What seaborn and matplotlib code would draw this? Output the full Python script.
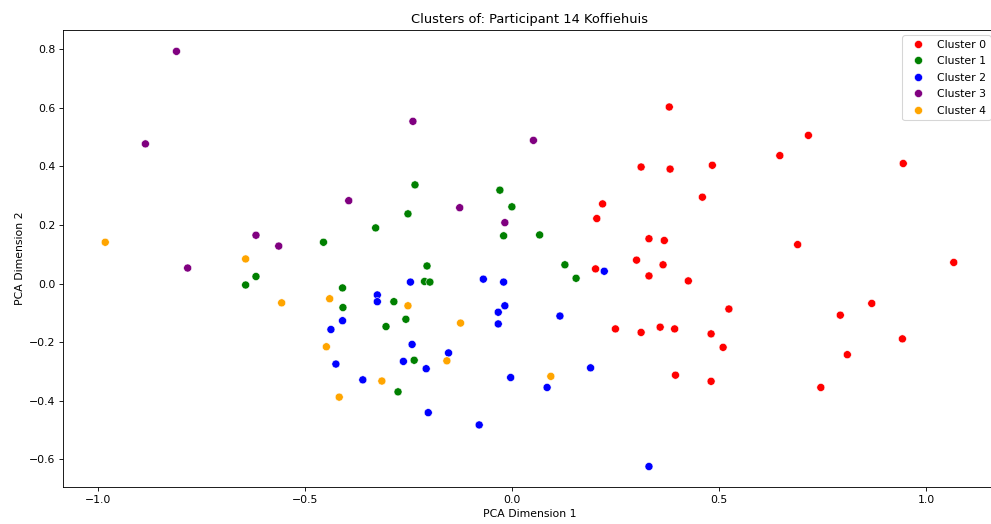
import matplotlib
matplotlib.use("Agg")
import matplotlib.pyplot as plt
import seaborn as sns
import pandas as pd

cluster0_x = [0.379, 0.715, 0.311, 0.381, 0.483, 0.646, 0.944, 0.459, 0.218, 0.204, 0.689,
              0.330, 0.367, 0.300, 0.201, 0.364, 0.330, 0.425, 1.066, 0.868, 0.523, 0.792,
              0.249, 0.357, 0.392, 0.311, 0.480, 0.509, 0.942, 0.809, 0.394, 0.480, 0.745]
cluster0_y = [0.603, 0.506, 0.398, 0.391, 0.404, 0.437, 0.410, 0.295, 0.272, 0.222, 0.133,
              0.153, 0.147, 0.080, 0.050, 0.064, 0.026, 0.009, 0.072, -0.068, -0.087, -0.108,
              -0.155, -0.149, -0.155, -0.167, -0.172, -0.218, -0.189, -0.243, -0.313, -0.334, -0.355]

cluster1_x = [-0.456, -0.330, -0.235, -0.252, -0.030, -0.001, -0.021, 0.066, -0.206, -0.212, -0.199,
              0.127, 0.154, -0.286, -0.305, -0.257, -0.237, -0.276, -0.644, -0.619, -0.410, -0.409]
cluster1_y = [0.141, 0.190, 0.337, 0.238, 0.319, 0.262, 0.163, 0.166, 0.060, 0.007, 0.005,
              0.064, 0.018, -0.062, -0.147, -0.122, -0.262, -0.370, -0.005, 0.024, -0.015, -0.082]

cluster2_x = [-0.326, -0.326, -0.410, -0.438, -0.426, -0.361, -0.246, -0.070, -0.021, -0.018, -0.034, -0.034,
              0.222, 0.115, -0.242, -0.263, -0.154, -0.208, -0.004, 0.189, 0.084, -0.203, -0.080, 0.330]
cluster2_y = [-0.039, -0.062, -0.127, -0.157, -0.275, -0.329, 0.005, 0.015, 0.005, -0.076, -0.098, -0.138,
              0.042, -0.111, -0.208, -0.266, -0.237, -0.291, -0.321, -0.288, -0.355, -0.441, -0.483, -0.625]

cluster3_x = [-0.811, -0.886, -0.395, -0.619, -0.564, -0.784, -0.240, 0.051, -0.127, -0.018]
cluster3_y = [0.793, 0.477, 0.283, 0.165, 0.128, 0.053, 0.554, 0.489, 0.259, 0.208]

cluster4_x = [-0.983, -0.644, -0.557, -0.441, -0.449, -0.418, -0.315, -0.252, -0.125, -0.158, 0.093]
cluster4_y = [0.141, 0.084, -0.066, -0.052, -0.216, -0.388, -0.333, -0.076, -0.135, -0.264, -0.317]

cluster_names = ["Cluster 0", "Cluster 1", "Cluster 2", "Cluster 3", "Cluster 4"]
cluster_colors = ["red", "green", "blue", "purple", "orange"]

xs = [cluster0_x, cluster1_x, cluster2_x, cluster3_x, cluster4_x]
ys = [cluster0_y, cluster1_y, cluster2_y, cluster3_y, cluster4_y]

rows = []
for name, cx, cy in zip(cluster_names, xs, ys):
    for a, b in zip(cx, cy):
        rows.append({"PCA Dimension 1": a, "PCA Dimension 2": b, "Cluster": name})
df = pd.DataFrame(rows)

W, H = 992, 524
dpi = 78.0
fig = plt.figure(figsize=(W / dpi, H / dpi), dpi=dpi)
ax = fig.add_axes([63 / W, 1 - 487.3 / H, (996 - 63) / W, (487.3 - 30) / H])

sns.scatterplot(data=df, x="PCA Dimension 1", y="PCA Dimension 2", hue="Cluster",
                hue_order=cluster_names, palette=dict(zip(cluster_names, cluster_colors)),
                s=55, edgecolor="white", linewidth=0.5, ax=ax)

ax.set_xlim(-1.085, 1.168)
ax.set_ylim(-0.696, 0.866)
ax.set_title("Clusters of: Participant 14 Koffiehuis")
ax.set_xlabel("PCA Dimension 1")
ax.set_ylabel("PCA Dimension 2")
ax.legend(loc="upper right", title=None, labelspacing=0.6)

fig.savefig("out.png", dpi=dpi)
